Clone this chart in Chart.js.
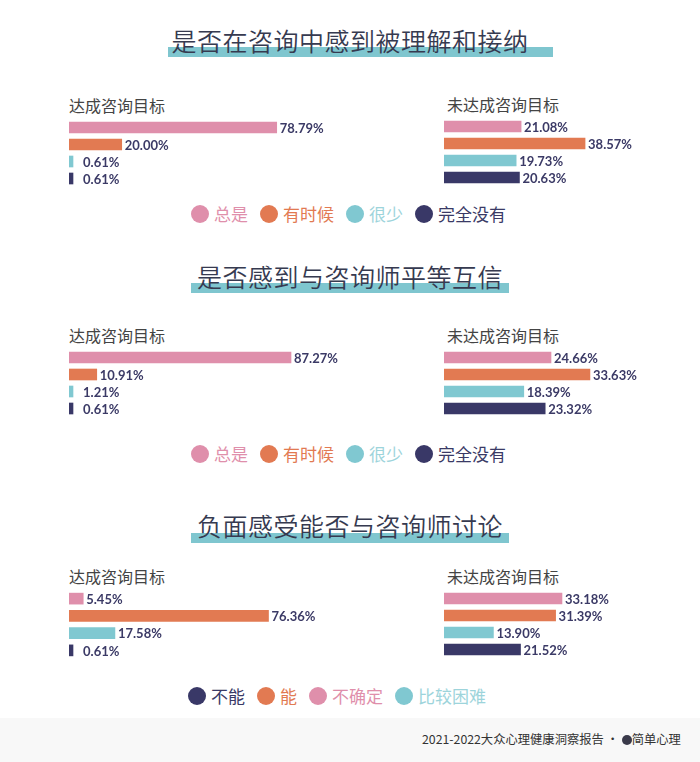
<!DOCTYPE html>
<html>
<head>
<meta charset="utf-8">
<script src="https://cdn.jsdelivr.net/npm/chart.js@4"></script>
<style>
  body { margin:0; background:#fff; font-family:"Noto Sans CJK SC","Noto Sans",sans-serif; }
  #page { position:relative; width:700px; height:762px; overflow:hidden; background:#fff; }
  .band { position:absolute; height:10px; background:#7fc6cf; }
  .title { position:absolute; left:0; width:700px; text-align:center; font-size:25px; font-weight:350; color:#363a50; letter-spacing:0.5px; line-height:32px; }
  .sub { position:absolute; font-size:16px; color:#444; line-height:20px; }
  .box { position:absolute; }
  .legend { position:absolute; display:flex; align-items:center; font-size:17px; line-height:22px; }
  .legend .it { display:flex; align-items:center; margin-right:12px; }
  .legend .dot { width:18px; height:18px; border-radius:50%; margin-right:5px; }
  #foot { position:absolute; left:0; top:718px; width:700px; height:44px; background:#f8f8f8; }
  #foot span { position:absolute; left:422px; top:12px; font-size:12.3px; color:#333; }
</style>
</head>
<body>
<div id="page">
  <div class="band" style="left:168px;top:47px;width:385px"></div>
  <div class="title" style="top:24px">是否在咨询中感到被理解和接纳</div>
  <div class="band" style="left:191px;top:283px;width:318px"></div>
  <div class="title" style="top:260px">是否感到与咨询师平等互信</div>
  <div class="band" style="left:191px;top:533px;width:318px"></div>
  <div class="title" style="top:509px">负面感受能否与咨询师讨论</div>

  <div class="sub" style="left:69px;top:95px">达成咨询目标</div>
  <div class="sub" style="left:447px;top:94px">未达成咨询目标</div>
  <div class="sub" style="left:69px;top:325px">达成咨询目标</div>
  <div class="sub" style="left:447px;top:325px">未达成咨询目标</div>
  <div class="sub" style="left:69px;top:566px">达成咨询目标</div>
  <div class="sub" style="left:447px;top:566px">未达成咨询目标</div>

  <div class="box" style="left:69px;top:119px;width:290px;height:68px"><canvas id="c1a"></canvas></div>
  <div class="box" style="left:444px;top:118px;width:256px;height:68px"><canvas id="c1b"></canvas></div>
  <div class="box" style="left:69px;top:349px;width:290px;height:68px"><canvas id="c2a"></canvas></div>
  <div class="box" style="left:444px;top:349px;width:256px;height:68px"><canvas id="c2b"></canvas></div>
  <div class="box" style="left:69px;top:590px;width:290px;height:69px"><canvas id="c3a"></canvas></div>
  <div class="box" style="left:444px;top:590px;width:256px;height:68px"><canvas id="c3b"></canvas></div>

  <div class="legend" id="lg1" style="left:191px;top:203px"></div>
  <div class="legend" id="lg2" style="left:191px;top:443px"></div>
  <div class="legend" id="lg3" style="left:188px;top:685px"></div>

  <div id="foot"><span>2021-2022大众心理健康洞察报告 · <b style="display:inline-block;width:10px;height:10px;border-radius:50%;background:#3a3a4a;vertical-align:-1px"></b>简单心理</span></div>
</div>
<script>
// categories (bar order, top to bottom)
const freqCats = ["总是", "有时候", "很少", "完全没有"];
const discussCats = ["不确定", "能", "比较困难", "不能"];
const discussLegend = ["不能", "能", "不确定", "比较困难"];

// values (%)
const understoodMet = [78.79, 20.00, 0.61, 0.61];
const understoodNotMet = [21.08, 38.57, 19.73, 20.63];
const equalMet = [87.27, 10.91, 1.21, 0.61];
const equalNotMet = [24.66, 33.63, 18.39, 23.32];
const discussMet = [5.45, 76.36, 17.58, 0.61];
const discussNotMet = [33.18, 31.39, 13.90, 21.52];

const colorOf = {
  "总是": "#df8fab", "有时候": "#e27a52", "很少": "#80c8d1", "完全没有": "#393867",
  "不确定": "#df8fab", "能": "#e27a52", "比较困难": "#80c8d1", "不能": "#393867"
};
const legendText = { "#df8fab": "#df8fab", "#e27a52": "#e27a52", "#80c8d1": "#9dd4db", "#393867": "#3a3a66" };

// value labels after each bar
const valueLabels = {
  id: "valueLabels",
  afterDatasetsDraw(chart) {
    let ctx = chart.ctx;
    let meta = chart.getDatasetMeta(0);
    let vals = chart.data.datasets[0].data;
    ctx.save();
    ctx.font = "bold 13px Lato";
    ctx.fillStyle = "#3b3a66";
    ctx.textBaseline = "middle";
    meta.data.forEach(function (bar, i) {
      let x = Math.max(bar.x + 3, chart.chartArea.left + 14);
      ctx.fillText(vals[i].toFixed(2) + "%", x, bar.y + 1);
    });
    ctx.restore();
  }
};

function makeBars(id, cats, values, maxX) {
  new Chart(document.getElementById(id), {
    type: "bar",
    data: {
      labels: cats,
      datasets: [{
        data: values,
        backgroundColor: cats.map(c => colorOf[c]),
        barThickness: 11,
        minBarLength: 4,
        borderWidth: 0
      }]
    },
    options: {
      indexAxis: "y",
      responsive: true,
      maintainAspectRatio: false,
      animation: false,
      layout: { padding: 0 },
      plugins: { legend: { display: false }, tooltip: { enabled: false } },
      scales: {
        x: { display: false, min: 0, max: maxX },
        y: { display: false }
      }
    },
    plugins: [valueLabels]
  });
}

makeBars("c1a", freqCats, understoodMet, 110);
makeBars("c1b", freqCats, understoodNotMet, 70);
makeBars("c2a", freqCats, equalMet, 114);
makeBars("c2b", freqCats, equalNotMet, 59);
makeBars("c3a", discussCats, discussMet, 111);
makeBars("c3b", discussCats, discussNotMet, 72);

function makeLegend(id, names) {
  let box = document.getElementById(id);
  names.forEach(function (n) {
    let c = colorOf[n];
    let it = document.createElement("div");
    it.className = "it";
    it.innerHTML = `<span class="dot" style="background:${c}"></span><span style="color:${legendText[c]}">${n}</span>`;
    box.appendChild(it);
  });
}
makeLegend("lg1", freqCats);
makeLegend("lg2", freqCats);
makeLegend("lg3", discussLegend);
</script>
</body>
</html>
